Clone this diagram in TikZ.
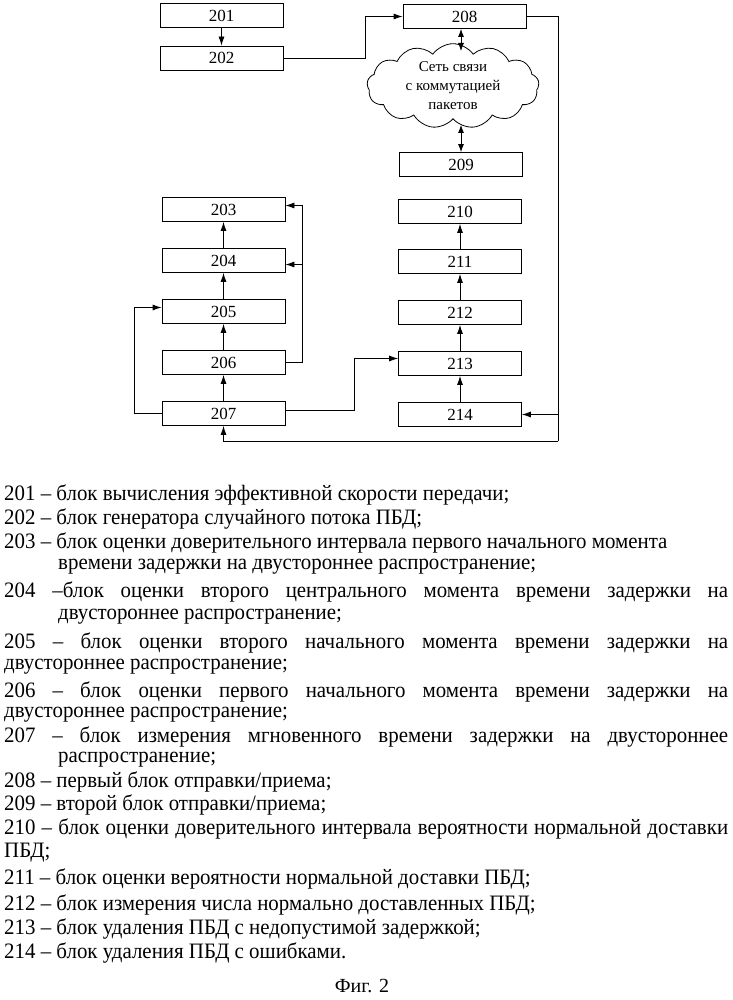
\documentclass[tikz,border=0pt]{standalone}
\usepackage{fontspec}
\setmainfont{Liberation Serif}
\newfontfamily\legendfont[FakeStretch=0.95]{Liberation Serif}
\usetikzlibrary{arrows.meta}
\usetikzlibrary{shapes.symbols}

\tikzset{
  blk/.style={draw, line width=0.8pt, minimum width=123pt, minimum height=24pt, inner sep=0pt, font=\fontsize{17}{19}\selectfont},
  arr/.style={line width=0.8pt, -{Latex[length=9pt,width=6pt]}},
  darr/.style={line width=0.8pt, {Latex[length=8pt,width=6pt]}-{Latex[length=8pt,width=6pt]}},
  leg/.style={anchor=west, inner sep=0pt, font=\legendfont\fontsize{22}{24}\selectfont}
}

\begin{document}
\begin{tikzpicture}[x=1pt,y=-1pt]
  \useasboundingbox (0,0) rectangle (732,1000);
  % left column
  \node[blk] (b201) at (221.5,15.5) {201};
  \node[blk] (b202) at (221.5,58) {202};
  \node[blk] (b203) at (223.5,209.5) {203};
  \node[blk] (b204) at (223.5,260.5) {204};
  \node[blk] (b205) at (223.5,311.5) {205};
  \node[blk] (b206) at (223.5,362.5) {206};
  \node[blk] (b207) at (223.5,413.5) {207};
  % right column
  \node[blk] (b208) at (464.5,16.5) {208};
  \node[draw, line width=0.8pt, cloud, cloud puffs=13, cloud puff arc=110, aspect=2.2,
        minimum width=172pt, minimum height=80pt, inner sep=0pt, align=center,
        font=\fontsize{15}{19}\selectfont] (net) at (453,86) {Сеть связи\\с коммутацией\\пакетов};
  \node[blk] (b209) at (461,164.5) {209};
  \node[blk] (b210) at (460,211.5) {210};
  \node[blk] (b211) at (460,261.5) {211};
  \node[blk] (b212) at (460,312.5) {212};
  \node[blk] (b213) at (460,363.5) {213};
  \node[blk] (b214) at (460,414.5) {214};
  \coordinate (spine) at (558,16.5);
  \coordinate (bot) at (558,441);
  \coordinate (r6) at (302,362.5);
  \coordinate (nettop) at (461,51);
  \coordinate (netbot) at (461,125);

  \draw[arr] (b201) -- (b202);
  \draw[arr] (b202.east) -- ++(82,0) |- (b208.west);
  \draw[darr] (b208.south -| nettop) -- (nettop);
  \draw[darr] (netbot) -- (b209.north -| netbot);
  \draw[line width=0.8pt] (b208.east) -- (spine) -- (bot);
  \draw[arr] (bot) -| (b207.south);
  \draw[arr] (b214.east -| spine) -- (b214.east);
  \draw[arr] (b207) -- (b206);
  \draw[arr] (b206) -- (b205);
  \draw[arr] (b205) -- (b204);
  \draw[arr] (b204) -- (b203);
  \draw[line width=0.8pt] (b206.east) -- (r6);
  \draw[arr] (r6) |- ([yshift=4pt]b203.east);
  \draw[arr] (r6) |- ([yshift=-4pt]b204.east);
  \draw[arr] (b207.west) -- ++(-27,0) |- ([yshift=4pt]b205.west);
  \draw[arr] ([yshift=3pt]b207.east) -- ++(69,0) |- ([yshift=5pt]b213.west);
  \draw[arr] (b214) -- (b213);
  \draw[arr] (b213) -- (b212);
  \draw[arr] (b212) -- (b211);
  \draw[arr] (b211) -- (b210);

  % legend
  \node[leg] (l01) at (4,495) {201 – блок вычисления эффективной скорости передачи;};
  \node[leg] (l02) at (4,519) {202 – блок генератора случайного потока ПБД;};
  \node[leg] (l03) at (4,543) {203 – блок оценки доверительного интервала первого начального момента};
  \node[leg] (l04) at (58,567) {времени задержки на двустороннее распространение;};
  \node[leg] (l05) at (4,592) {\makebox[724pt][s]{204 –блок оценки второго центрального момента времени задержки на}};
  \node[leg] (l06) at (58,617) {двустороннее распространение;};
  \node[leg] (l07) at (4,643) {\makebox[724pt][s]{205 – блок оценки второго начального момента времени задержки на}};
  \node[leg] (l08) at (4,667) {двустороннее распространение;};
  \node[leg] (l09) at (4,692) {\makebox[724pt][s]{206 – блок оценки первого начального момента времени задержки на}};
  \node[leg] (l10) at (4,715) {двустороннее распространение;};
  \node[leg] (l11) at (4,737) {\makebox[724pt][s]{207 – блок измерения мгновенного времени задержки на двустороннее}};
  \node[leg] (l12) at (58,760) {распространение;};
  \node[leg] (l13) at (4,782) {208 – первый блок отправки/приема;};
  \node[leg] (l14) at (4,805) {209 – второй блок отправки/приема;};
  \node[leg] (l15) at (4,829) {\makebox[724pt][s]{210 – блок оценки доверительного интервала вероятности нормальной доставки}};
  \node[leg] (l16) at (4,853) {ПБД;};
  \node[leg] (l17) at (4,879) {211 – блок оценки вероятности нормальной доставки ПБД;};
  \node[leg] (l18) at (4,905) {212 – блок измерения числа нормально доставленных ПБД;};
  \node[leg] (l19) at (4,929) {213 – блок удаления ПБД с недопустимой задержкой;};
  \node[leg] (l20) at (4,953) {214 – блок удаления ПБД с ошибками.};
  \node[inner sep=0pt, font=\fontsize{20}{22}\selectfont] (fig) at (362,986) {Фиг. 2};
\end{tikzpicture}
\end{document}
